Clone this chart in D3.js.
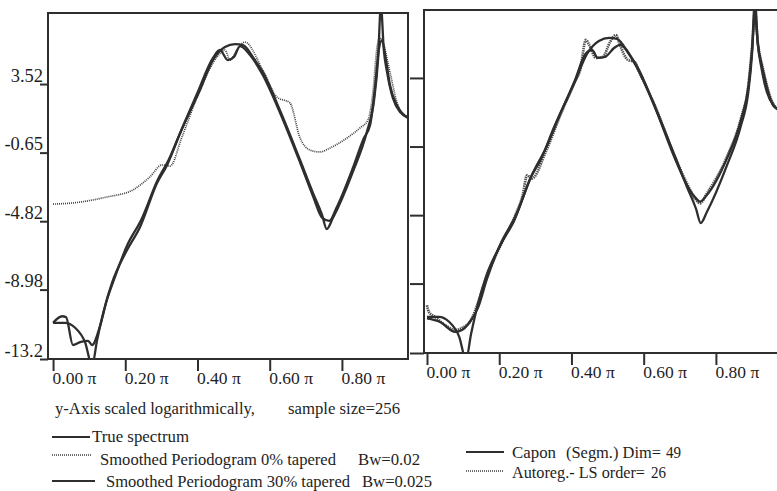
<!DOCTYPE html>
<html>
<head>
<meta charset="utf-8">
<script src="https://cdn.jsdelivr.net/npm/d3@7/dist/d3.min.js"></script>
<style>
  body { margin: 0; background: #fff; }
  text { font-family: "Liberation Serif", "Times New Roman", serif; fill: #1e1e1e; }
</style>
</head>
<body>
<svg id="chart" width="777" height="491"></svg>
<script>
// Frequency ticks (multiples of pi) and log-power tick labels
const xTicks = [0, 0.2, 0.4, 0.6, 0.8];
const yTicks = [3.52, -0.65, -4.82, -8.98, -13.2];

// True spectrum (log scale)
const trueFreq = [0, 0.033, 0.061, 0.089, 0.108, 0.122, 0.141, 0.163, 0.205, 0.241, 0.288, 0.316, 0.352, 0.407, 0.443, 0.476, 0.504, 0.526, 0.559, 0.581, 0.628, 0.684, 0.720, 0.745, 0.758, 0.775, 0.830, 0.869, 0.889, 0.900, 0.908, 0.916, 0.925, 0.941, 0.961, 0.983];
const trueLog  = [-11.0, -11.0, -11.3, -12.2, -13.6, -12.05, -10.22, -8.58, -6.57, -5.17, -2.50, -1.40, 0.54, 3.16, 4.98, 5.77, 5.95, 5.89, 4.98, 4.25, 1.94, -1.10, -3.11, -4.44, -5.3, -4.63, -1.83, 0.60, 2.55, 4.98, 8.3, 5.59, 4.25, 2.67, 1.82, 1.51];

// Smoothed periodogram, 0% tapered, Bw=0.02
const per0Freq = [0, 0.055, 0.149, 0.221, 0.268, 0.302, 0.324, 0.357, 0.407, 0.454, 0.476, 0.49, 0.509, 0.531, 0.581, 0.62, 0.656, 0.684, 0.711, 0.739, 0.767, 0.814, 0.85, 0.872, 0.886, 0.897, 0.905, 0.913, 0.933, 0.952, 0.974, 0.983];
const per0Log  = [-3.78, -3.71, -3.35, -2.92, -2.13, -1.40, -1.47, 0.30, 3.16, 5.16, 5.59, 4.98, 5.59, 6.07, 4.37, 2.73, 2.37, 0.24, -0.49, -0.61, -0.37, 0.24, 0.85, 1.33, 3.03, 5.71, 6.32, 6.07, 4.25, 2.43, 1.64, 1.51];

// Smoothed periodogram, 30% tapered, Bw=0.025
const per30Freq = [0, 0.025, 0.036, 0.055, 0.075, 0.097, 0.108, 0.130, 0.149, 0.170, 0.205, 0.245, 0.29, 0.32, 0.355, 0.40, 0.443, 0.462, 0.484, 0.501, 0.518, 0.545, 0.58, 0.63, 0.685, 0.72, 0.745, 0.765, 0.785, 0.83, 0.86, 0.878, 0.891, 0.902, 0.911, 0.922, 0.933, 0.952, 0.983];
const per30Log  = [-11.0, -10.6, -10.65, -12.35, -12.17, -12.1, -12.35, -11.2, -9.61, -8.3, -6.3, -4.7, -2.3, -1.1, 0.7, 3.0, 5.11, 5.59, 4.98, 5.17, 5.83, 5.3, 4.1, 1.7, -1.3, -3.3, -4.6, -4.8, -4.0, -1.6, 0.2, 1.03, 3.16, 5.59, 6.19, 4.98, 3.46, 2.24, 1.45];

// Capon (segmented), Dim = 49
const caponFreq = [0, 0.036, 0.078, 0.097, 0.119, 0.141, 0.166, 0.205, 0.245, 0.29, 0.33, 0.37, 0.41, 0.437, 0.457, 0.473, 0.493, 0.518, 0.534, 0.58, 0.63, 0.685, 0.72, 0.745, 0.756, 0.775, 0.83, 0.87, 0.89, 0.90, 0.908, 0.916, 0.93, 0.96, 0.983];
const caponLog  = [-11.1, -11.32, -11.92, -11.8, -11.3, -10.46, -8.7, -6.5, -4.9, -2.4, -0.7, 1.4, 3.4, 4.92, 5.22, 4.74, 4.80, 5.34, 5.53, 4.2, 1.8, -1.3, -3.0, -3.8, -4.0, -3.6, -1.4, 1.0, 3.0, 5.2, 7.4, 5.6, 4.0, 1.8, 1.5];

// Autoregressive least-squares fit, order 26
const arFreq = [0, 0.005, 0.022, 0.05, 0.078, 0.097, 0.125, 0.141, 0.166, 0.205, 0.245, 0.265, 0.277, 0.29, 0.33, 0.37, 0.41, 0.424, 0.44, 0.449, 0.468, 0.487, 0.507, 0.523, 0.534, 0.556, 0.575, 0.585, 0.63, 0.685, 0.72, 0.745, 0.756, 0.775, 0.83, 0.87, 0.89, 0.90, 0.908, 0.916, 0.93, 0.96, 0.983];
const arLog  = [-10.3, -10.7, -11.0, -11.5, -11.8, -11.68, -11.07, -10.16, -8.5, -6.6, -4.8, -3.6, -2.4, -2.6, -0.9, 1.3, 3.3, 4.0, 5.83, 5.53, 4.74, 4.8, 5.71, 6.13, 5.53, 4.62, 4.5, 4.0, 1.9, -1.2, -2.9, -3.9, -4.1, -3.5, -1.3, 1.1, 3.1, 5.4, 7.6, 5.7, 4.1, 1.9, 1.5];

const ink = "#2e2e2e";
const styles = {
  solid:  { stroke: ink, width: 2.3, dash: null },
  dotted: { stroke: "#404040", width: 1.7, dash: "1,1" },
  grain:  { stroke: "#4e4e4e", width: 2.7, dash: "1.4,0.8" }
};

const zip = (f, v) => f.map((d, i) => [d, v[i]]);

const panels = [
  { id: "L", left: 48, right: 408, top: 13, bottom: 359, fDom: [-0.014, 0.983], vDom: [-13.2, 7.84], labels: true,
    series: [ { d: zip(per0Freq, per0Log), s: "dotted" },
              { d: zip(per30Freq, per30Log), s: "solid" },
              { d: zip(trueFreq, trueLog), s: "solid" } ] },
  { id: "R", left: 424, right: 782, top: 10, bottom: 353, fDom: [-0.0083, 0.983], vDom: [-13.2, 7.65], labels: false,
    series: [ { d: zip(arFreq, arLog), s: "grain" },
              { d: zip(caponFreq, caponLog), s: "solid" },
              { d: zip(trueFreq, trueLog), s: "solid" } ] }
];

const svg = d3.select("#chart");
svg.append("rect").attr("width", 777).attr("height", 491).attr("fill", "#fff");
const defs = svg.append("defs");

panels.forEach(p => {
  const x = d3.scaleLinear().domain(p.fDom).range([p.left, p.right]);
  const y = d3.scaleLinear().domain(p.vDom).range([p.bottom, p.top]);

  defs.append("clipPath").attr("id", "clip" + p.id)
    .append("rect").attr("x", p.left).attr("y", p.top)
    .attr("width", p.right - p.left).attr("height", p.bottom - p.top);

  const g = svg.append("g");
  const line = d3.line().x(d => x(d[0])).y(d => y(d[1])).curve(d3.curveMonotoneX);

  g.append("g").attr("clip-path", `url(#clip${p.id})`)
    .selectAll("path").data(p.series).join("path")
    .attr("d", s => line(s.d))
    .attr("fill", "none")
    .attr("stroke", s => styles[s.s].stroke)
    .attr("stroke-width", s => styles[s.s].width)
    .attr("stroke-dasharray", s => styles[s.s].dash)
    .attr("stroke-linejoin", "round");

  // frame
  g.append("rect").attr("x", p.left).attr("y", p.top)
    .attr("width", p.right - p.left).attr("height", p.bottom - p.top)
    .attr("fill", "none").attr("stroke", ink).attr("stroke-width", 2);

  // x axis
  const xa = g.append("g").attr("transform", `translate(0,${p.bottom})`)
    .call(d3.axisBottom(x).tickValues(xTicks).tickSize(12)
      .tickFormat(d => d.toFixed(2) + " \u03c0"));
  xa.select(".domain").remove();
  xa.selectAll("line").attr("stroke", ink).attr("stroke-width", 2);
  xa.selectAll("text").attr("dy", null).attr("y", 25)
    .attr("text-anchor", "start").attr("x", -1)
    .style("font-size", "17.5px").attr("fill", "#1e1e1e");

  // y axis
  const ya = g.append("g").attr("transform", `translate(${p.left},0)`)
    .call(d3.axisLeft(y).tickValues(yTicks).tickSize(p.labels ? 8 : 14)
      .tickFormat(d => p.labels ? String(d) : ""));
  ya.select(".domain").remove();
  ya.selectAll("line").attr("stroke", ink).attr("stroke-width", 2);
  ya.selectAll("text").attr("dy", "-0.16em").attr("x", -5)
    .style("font-size", "18.5px").attr("fill", "#1e1e1e");
});

// notes and legend; each phrase is placed as its own run so the wide gaps stay
const notes = svg.append("g").style("font-size", "16px");
const put = (sel, str, x, y, w) => sel.append("text").attr("x", x).attr("y", y)
  .attr("textLength", w).attr("lengthAdjust", "spacingAndGlyphs").text(str);

put(notes, "y-Axis scaled logarithmically,", 55, 414, 200);
put(notes, "sample size=256", 288, 414, 112);

const legendItems = [
  { s: "solid",  lx: 52,  lw: 38, ly: 437, ty: 442, runs: [["True spectrum", 92, 97]] },
  { s: "dotted", lx: 52,  lw: 40, ly: 455, ty: 465, runs: [["Smoothed Periodogram 0% tapered", 100, 236], ["Bw=0.02", 358, 62]] },
  { s: "solid",  lx: 52,  lw: 43, ly: 481, ty: 487, runs: [["Smoothed Periodogram 30% tapered", 106, 244], ["Bw=0.025", 362, 70]] },
  { s: "solid",  lx: 466, lw: 38, ly: 452, ty: 458, runs: [["Capon", 512, 44], ["(Segm.) Dim=", 566, 95], ["49", 666, 15]] },
  { s: "dotted", lx: 466, lw: 38, ly: 471, ty: 478, runs: [["Autoreg.- LS order=", 512, 133], ["26", 651, 15]] }
];
legendItems.forEach(d => {
  notes.append("line")
    .attr("x1", d.lx).attr("x2", d.lx + d.lw).attr("y1", d.ly).attr("y2", d.ly)
    .attr("stroke", styles[d.s].stroke)
    .attr("stroke-width", d.s === "solid" ? 2.2 : 1.7)
    .attr("stroke-dasharray", styles[d.s].dash);
  d.runs.forEach(r => put(notes, r[0], r[1], d.ty, r[2]));
});
</script>
</body>
</html>
